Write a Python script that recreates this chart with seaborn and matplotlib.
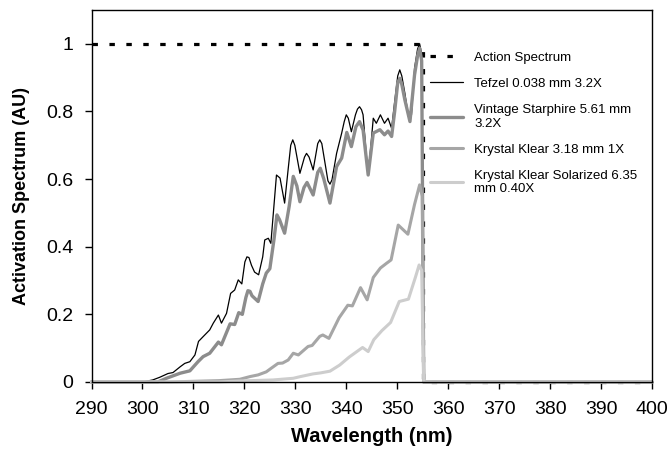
import numpy as np
import pandas as pd
import seaborn as sns
import matplotlib.pyplot as plt
from matplotlib.ticker import FuncFormatter

# action spectrum (step at 355 nm)
action_wl = [290, 355, 355, 400]
action_val = [1.0, 1.0, 0.0, 0.0]

tefzel_wl = [290, 300, 302, 303.4, 305, 306, 307.4, 308.3, 309.3, 310.3, 311, 311.9, 313.2, 313.9,
             314.9, 315.5, 316.5, 317.3, 318.1, 318.8, 319.5, 320.1, 320.5, 320.9, 321.4, 322, 322.8,
             323.6, 324, 324.7, 325.2, 325.8, 326.3, 327, 327.9, 328.6, 329.1, 329.5, 329.9, 330.9,
             331.8, 332.2, 332.7, 333.5, 334.4, 334.8, 335.2, 335.8, 336.4, 336.8, 337.2, 338.1,
             339.1, 339.6, 340, 340.4, 341, 341.8, 342.2, 342.6, 343.0, 343.3, 344.0, 344.3, 344.6,
             345.3, 345.9, 346.7, 347.5, 348.2, 348.9, 349.5, 350.1, 350.5, 350.9, 351.5, 352.2,
             352.5, 352.8, 353.4, 354.0, 354.4, 354.8, 355.2, 400]
tefzel_val = [0, 0, 0.006, 0.014, 0.025, 0.028, 0.045, 0.055, 0.06, 0.08, 0.12, 0.134, 0.154, 0.174,
              0.198, 0.174, 0.203, 0.262, 0.272, 0.302, 0.29, 0.355, 0.37, 0.368, 0.345, 0.325, 0.317,
              0.37, 0.42, 0.425, 0.41, 0.52, 0.612, 0.603, 0.529, 0.63, 0.70, 0.716, 0.70, 0.617,
              0.665, 0.676, 0.665, 0.627, 0.705, 0.716, 0.705, 0.65, 0.595, 0.585, 0.598, 0.676,
              0.736, 0.77, 0.79, 0.78, 0.74, 0.79, 0.807, 0.814, 0.805, 0.79, 0.66, 0.642, 0.66,
              0.78, 0.765, 0.79, 0.765, 0.78, 0.75, 0.829, 0.905, 0.923, 0.905, 0.854, 0.785,
              0.775, 0.79, 0.928, 0.985, 1.0, 0.97, 0.0, 0.0]

vintage_wl = [290, 303, 304.7, 307.4, 309.3, 310.9, 311.9, 313.2, 314.9, 315.5, 317.2, 318.1, 318.9,
              319.6, 320.3, 320.7, 321.1, 321.5, 322.7, 323.6, 324.3, 325, 325.8, 326.4, 326.9, 327.9,
              328.8, 329.6, 330.3, 330.9, 331.7, 332.3, 333.5, 334.4, 334.9, 335.6, 336.8, 338.1,
              339.1, 340.1, 341, 341.9, 342.6, 343.3, 344.3, 345.3, 346.6, 347.5, 348.2, 348.9,
              349.5, 350.1, 350.5, 350.9, 351.5, 352.5, 353.4, 354.0, 354.4, 354.8, 355.2, 400]
vintage_val = [0, 0, 0.011, 0.026, 0.033, 0.06, 0.075, 0.085, 0.118, 0.11, 0.172, 0.17, 0.205,
               0.2, 0.25, 0.27, 0.268, 0.255, 0.238, 0.29, 0.322, 0.335, 0.42, 0.494, 0.48, 0.44,
               0.52, 0.608, 0.58, 0.533, 0.575, 0.59, 0.553, 0.62, 0.632, 0.6, 0.529, 0.637,
               0.662, 0.738, 0.696, 0.755, 0.77, 0.745, 0.612, 0.736, 0.746, 0.731, 0.742, 0.726,
               0.80, 0.885, 0.898, 0.88, 0.834, 0.77, 0.908, 0.965, 0.987, 0.95, 0.0, 0.0]

klear_wl = [290, 305, 310, 315, 319.1, 321.1, 322.7, 324.3, 325.3, 326.6, 327.5, 328.6, 329.6, 330.6,
            332.5, 333.3, 334.8, 335.4, 336.6, 338.6, 340.3, 341.2, 342.8, 344.1, 345.3, 346.7, 347.9,
            348.8, 350.2, 352.1, 353.4, 354.4, 354.9, 355.2, 400]
klear_val = [0, 0, 0.002, 0.004, 0.008, 0.016, 0.021, 0.03, 0.041, 0.055, 0.056, 0.065, 0.085, 0.08,
             0.105, 0.108, 0.135, 0.139, 0.129, 0.19, 0.227, 0.225, 0.279, 0.243, 0.309, 0.337, 0.351,
             0.361, 0.464, 0.437, 0.525, 0.583, 0.55, 0.0, 0.0]

solar_wl = [290, 315, 319, 325.6, 329.6, 331, 333.5, 335, 336.8, 338.7, 340.6, 343.2, 344.3, 345.4,
            347, 348.7, 350.4, 352.2, 353.6, 354.3, 354.8, 355.2, 400]
solar_val = [0, 0, 0.003, 0.006, 0.011, 0.016, 0.024, 0.027, 0.032, 0.05, 0.074, 0.102, 0.09, 0.125,
             0.152, 0.176, 0.238, 0.245, 0.311, 0.346, 0.33, 0.0, 0.0]

labels = ['Action Spectrum', 'Tefzel 0.038 mm 3.2X', 'Vintage Starphire 5.61 mm\n3.2X',
          'Krystal Klear 3.18 mm 1X', 'Krystal Klear Solarized 6.35\nmm 0.40X']

sns.set_style('ticks')
plt.rcParams['font.family'] = ['Liberation Sans', 'DejaVu Sans']
plt.rcParams.update({'text.color': 'black', 'axes.labelcolor': 'black',
                     'xtick.color': 'black', 'ytick.color': 'black'})

fig = plt.figure(figsize=(6.68, 4.54), dpi=100)
ax = fig.add_axes([0.137, 0.1586, 0.839, 0.8194])

line_kw = dict(ax=ax, estimator=None, sort=False, clip_on=False, solid_joinstyle='round')
sns.lineplot(x=action_wl, y=action_val, color='black', linewidth=2.3,
             linestyle=(0, (1.7, 3.6)), label=labels[0], **line_kw)
sns.lineplot(x=tefzel_wl, y=tefzel_val, color='black', linewidth=0.9, label=labels[1], **line_kw)
sns.lineplot(x=vintage_wl, y=vintage_val, color='#8c8c8c', linewidth=2.4, label=labels[2], **line_kw)
sns.lineplot(x=klear_wl, y=klear_val, color='#a6a6a6', linewidth=2.2, label=labels[3], **line_kw)
sns.lineplot(x=solar_wl, y=solar_val, color='#cdcdcd', linewidth=2.2, label=labels[4], **line_kw)

ax.set_xlim(290, 400)
ax.set_ylim(0, 1.1)
ax.set_xticks(np.arange(290, 401, 10))
ax.set_yticks([0, 0.2, 0.4, 0.6, 0.8, 1.0])
ax.yaxis.set_major_formatter(FuncFormatter(lambda v, p: f'{v:g}'))
ax.tick_params(axis='both', labelsize=14, length=5, width=1, color='black',
               labelcolor='black', direction='out')
ax.tick_params(axis='x', pad=9)
ax.tick_params(axis='y', pad=8)
for s in ax.spines.values():
    s.set_visible(True)
    s.set_color('black')
    s.set_linewidth(1)

ax.set_xlabel('Wavelength (nm)', fontsize=14.5, fontweight='bold', labelpad=6, color='black')
ax.set_ylabel('Activation Spectrum (AU)', fontsize=13, fontweight='bold', labelpad=12, color='black')

leg = ax.legend(loc='upper left', bbox_to_anchor=(0.604, 0.888), frameon=False, fontsize=9.5,
                handlelength=2.5, handletextpad=0.83, labelspacing=1.05, borderpad=0, borderaxespad=0)
for t in leg.get_texts():
    t.set_color('black')

fig.savefig('out.png', dpi=100)
